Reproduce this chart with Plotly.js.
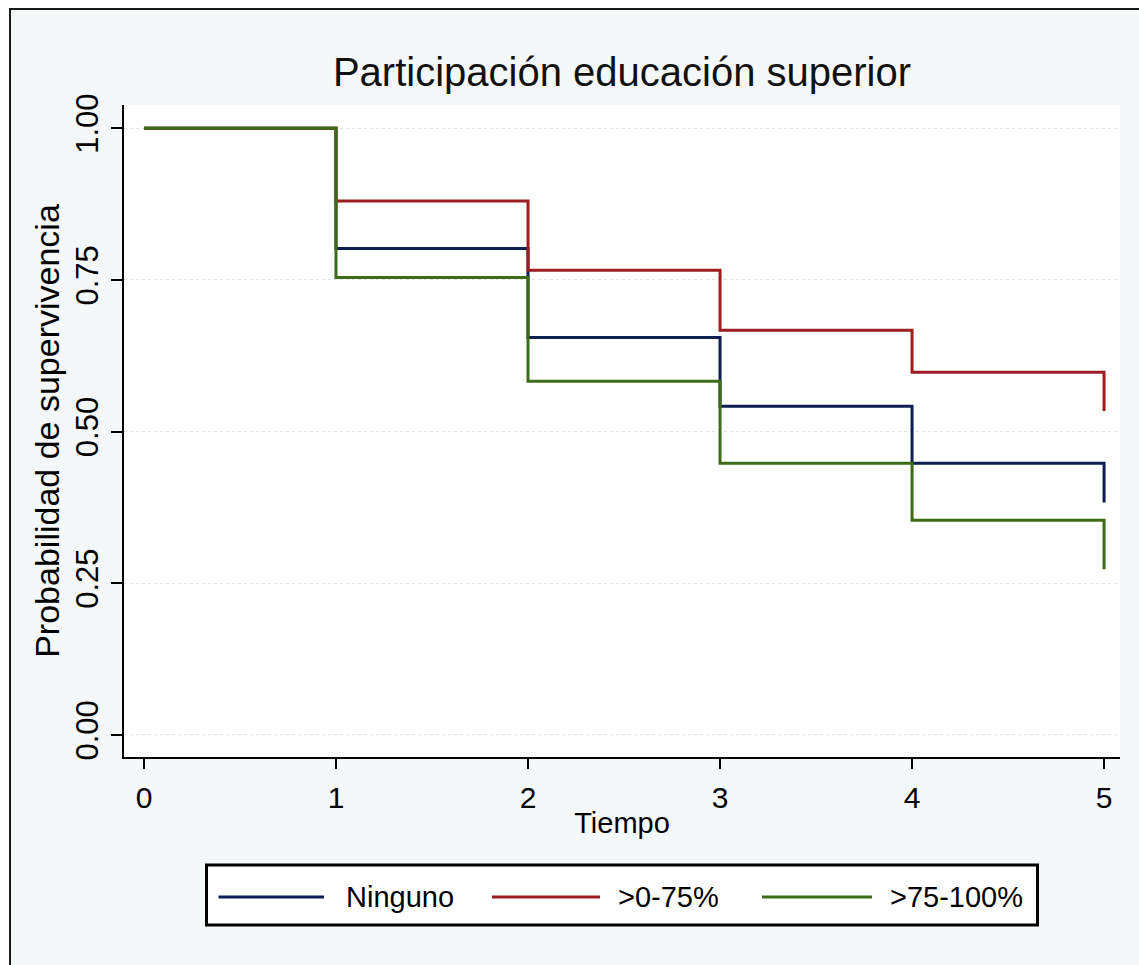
<!DOCTYPE html>
<html>
<head>
<meta charset="utf-8">
<script src="https://cdn.plot.ly/plotly-3.0.1.min.js"></script>
<style>
  html, body { margin: 0; padding: 0; background: #ffffff; }
  #frame { position: absolute; left: 9px; top: 8px; border-top: 2px solid #1a1a1a; border-left: 2px solid #1a1a1a; width: 1130px; height: 957px; }
  #plot { width: 1130px; height: 957px; }
</style>
</head>
<body>
<div id="frame"><div id="plot"></div></div>
<script>
// ---- data ----
const times = [0, 1, 2, 3, 4, 5];
const ninguno = [1.00, 0.802, 0.655, 0.542, 0.448, 0.383];
const bajo    = [1.00, 0.880, 0.766, 0.667, 0.598, 0.534];
const alto    = [1.00, 0.754, 0.583, 0.448, 0.354, 0.273];
const seriesNames = ['Ninguno', '>0-75%', '>75-100%'];
const yTickVals = [0, 0.25, 0.5, 0.75, 1];
const yTickText = ['0.00', '0.25', '0.50', '0.75', '1.00'];
const xTickVals = [0, 1, 2, 3, 4, 5];
const xTickText = ['0', '1', '2', '3', '4', '5'];

// ---- style ----
const colors = ['#0c1f52', '#9c1d22', '#3c6c16'];
const FONT = '"Liberation Sans", Arial, sans-serif';
const W = 1130, H = 957;
const M = { l: 113, r: 21, t: 95, b: 210 };
const PW = W - M.l - M.r, PH = H - M.t - M.b;
const px2x = (px) => (px - M.l) / PW;
const px2y = (py) => (H - M.b - py) / PH;

const seriesVals = [ninguno, bajo, alto];
const traces = seriesVals.map((vals, i) => ({
  type: 'scatter',
  mode: 'lines',
  x: times,
  y: vals,
  name: seriesNames[i],
  line: { shape: 'hv', color: colors[i], width: 3 },
  hoverinfo: 'x+y+name'
}));

// custom legend (box + sample lines + labels)
const legBox = { x0: 195.5, x1: 1026.5, y0: 855, y1: 915 };
const legY = 887;
const legItems = [
  { l0: 207.5, l1: 313, t: 333 },
  { l0: 481, l1: 589, t: 605 },
  { l0: 751, l1: 861, t: 877 }
];
const shapes = [{
  type: 'rect', xref: 'paper', yref: 'paper',
  x0: px2x(legBox.x0), x1: px2x(legBox.x1), y0: px2y(legBox.y0), y1: px2y(legBox.y1),
  line: { color: '#000000', width: 3 }, fillcolor: '#ffffff', layer: 'above'
}];
const annotations = [];
legItems.forEach((it, i) => {
  shapes.push({
    type: 'line', xref: 'paper', yref: 'paper',
    x0: px2x(it.l0), x1: px2x(it.l1), y0: px2y(legY), y1: px2y(legY),
    line: { color: colors[i], width: 3 }, layer: 'above'
  });
  annotations.push({
    xref: 'paper', yref: 'paper', x: px2x(it.t), y: px2y(legY),
    xanchor: 'left', yanchor: 'middle', showarrow: false,
    text: seriesNames[i], font: { family: FONT, size: 29, color: '#000000' }
  });
});

const layout = {
  width: W, height: H,
  margin: M,
  paper_bgcolor: '#f5f8f9',
  plot_bgcolor: '#ffffff',
  showlegend: false,
  font: { family: FONT, color: '#000000' },
  title: {
    text: 'Participación educación superior',
    font: { family: FONT, size: 40, color: '#111111' },
    x: 0.5, xref: 'paper', xanchor: 'center',
    y: 1 - 62 / H, yref: 'container', yanchor: 'middle'
  },
  xaxis: {
    range: [-0.104, 5.083],
    tickvals: xTickVals, ticktext: xTickText,
    ticks: 'outside', ticklen: 10, tickwidth: 2, tickcolor: '#000000',
    showline: true, linecolor: '#000000', linewidth: 2,
    showgrid: false, zeroline: false,
    tickfont: { family: FONT, size: 30, color: '#000000' },
    ticklabelstandoff: 3,
    title: { text: 'Tiempo', font: { family: FONT, size: 29, color: '#000000' }, standoff: 0 },
    automargin: false, fixedrange: true
  },
  yaxis: {
    range: [-0.0363, 1.0384],
    tickvals: yTickVals, ticktext: yTickText,
    tickangle: -90,
    ticks: 'outside', ticklen: 11, tickwidth: 2, tickcolor: '#000000',
    showline: true, linecolor: '#000000', linewidth: 2,
    showgrid: true, gridcolor: '#e6e1e6', gridwidth: 1, griddash: 'dot',
    zeroline: false,
    tickfont: { family: FONT, size: 31, color: '#000000' },
    ticklabelstandoff: 1,
    title: { text: 'Probabilidad de supervivencia', font: { family: FONT, size: 34, color: '#000000' }, standoff: 0 },
    automargin: false, fixedrange: true
  },
  shapes: shapes,
  annotations: annotations
};

Plotly.newPlot('plot', traces, layout, { displayModeBar: false, staticPlot: false });
</script>
</body>
</html>
